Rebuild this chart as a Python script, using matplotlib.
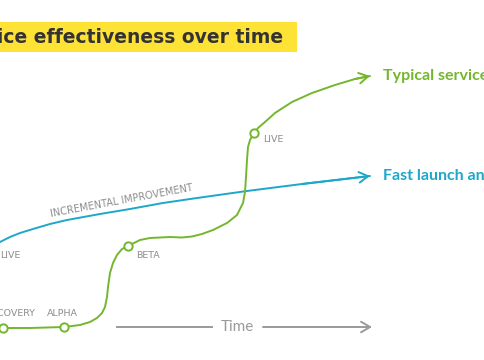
import matplotlib
matplotlib.use("Agg")
import matplotlib.pyplot as plt

# colours
green = "#74b72e"
blue = "#1ea7c8"
grey = "#8c8c8c"
yellow = "#ffe236"

# typical service curve (pixel coords)
green_x = [0, 3, 30, 64, 80, 90, 97, 102, 105, 107, 108, 110, 113, 117, 122, 128,
           140, 150, 170, 182, 192, 202, 213, 227, 237, 243, 245, 246, 247, 248, 250, 254,
           258, 265, 275, 292, 312, 335, 355, 370]
green_y = [328, 328, 328, 327, 325, 322, 318, 313, 307, 297, 287, 273, 263, 255, 249, 246,
           240, 238, 237, 237.5, 236.5, 234, 230, 223, 215, 203, 192, 177, 160, 147, 140, 133,
           128, 122, 113, 102, 93, 85, 79, 76]

# fast launch curve
blue_x = [0, 10, 20, 33, 50, 67, 100, 130, 163, 197, 247, 302, 370]
blue_y = [242, 237, 233, 229, 224, 220, 214, 209, 203, 198, 191, 184, 176]

# milestones
stage_names = ["DISCOVERY", "ALPHA", "BETA", "LIVE"]
stage_x = [3, 64, 128, 254]
stage_y = [328, 327, 246, 133]
label_x = [35, 47, 136, 263]
label_y = [313, 313, 255, 139]

fig = plt.figure(figsize=(4.85, 3.6), dpi=100)
ax = fig.add_axes([0, 0, 1, 1])
ax.set_xlim(0, 485)
ax.set_ylim(360, 0)
ax.axis("off")
plt.rcParams["font.family"] = ["DejaVu Sans"]

# title box
ax.add_patch(plt.Rectangle((0, 22), 297, 30, color=yellow, lw=0))
ax.text(283, 37.5, "Service effectiveness over time", ha="right", va="center",
        fontsize=13.5, fontweight="bold", color="#333333")

ax.plot(blue_x, blue_y, color=blue, lw=1.4, solid_capstyle="round", solid_joinstyle="round")
ax.plot(green_x, green_y, color=green, lw=1.4, solid_capstyle="round", solid_joinstyle="round")

arrow = "->,head_length=0.65,head_width=0.38"
ax.annotate("", xy=(green_x[-1], green_y[-1]), xytext=(green_x[-2], green_y[-2]),
            arrowprops=dict(arrowstyle=arrow, color=green, lw=1.4, shrinkA=0, shrinkB=0))
ax.annotate("", xy=(blue_x[-1], blue_y[-1]), xytext=(blue_x[-2], blue_y[-2]),
            arrowprops=dict(arrowstyle=arrow, color=blue, lw=1.4, shrinkA=0, shrinkB=0))

ax.plot(stage_x, stage_y, "o", ms=6, mfc="white", mec=green, mew=1.4)

for i, name in enumerate(stage_names):
    ax.text(label_x[i], label_y[i], name, ha="right" if i == 0 else "left",
            va="center", fontsize=6.8, color=grey)
ax.text(0, 256, "LIVE", ha="left", va="center", fontsize=6.8, color=grey)
ax.text(122, 201, "INCREMENTAL IMPROVEMENT", ha="center", va="center",
        fontsize=7, color=grey, rotation=10.5, rotation_mode="anchor")

ax.text(383, 76, "Typical service lifecycle", ha="left", va="center",
        fontsize=11.5, fontweight="bold", color=green, family="Lato")
ax.text(383, 176, "Fast launch and iterate", ha="left", va="center",
        fontsize=11.5, fontweight="bold", color=blue, family="Lato")

# time axis
ax.plot([117, 212], [327, 327], color="#9a9a9a", lw=1.4)
ax.text(237, 327, "Time", ha="center", va="center", fontsize=11,
        color="#9a9a9a", family="Lato")
ax.annotate("", xy=(372, 327), xytext=(263, 327),
            arrowprops=dict(arrowstyle=arrow, color="#9a9a9a", lw=1.4, shrinkA=0, shrinkB=0))

fig.savefig("out.png", dpi=100)
